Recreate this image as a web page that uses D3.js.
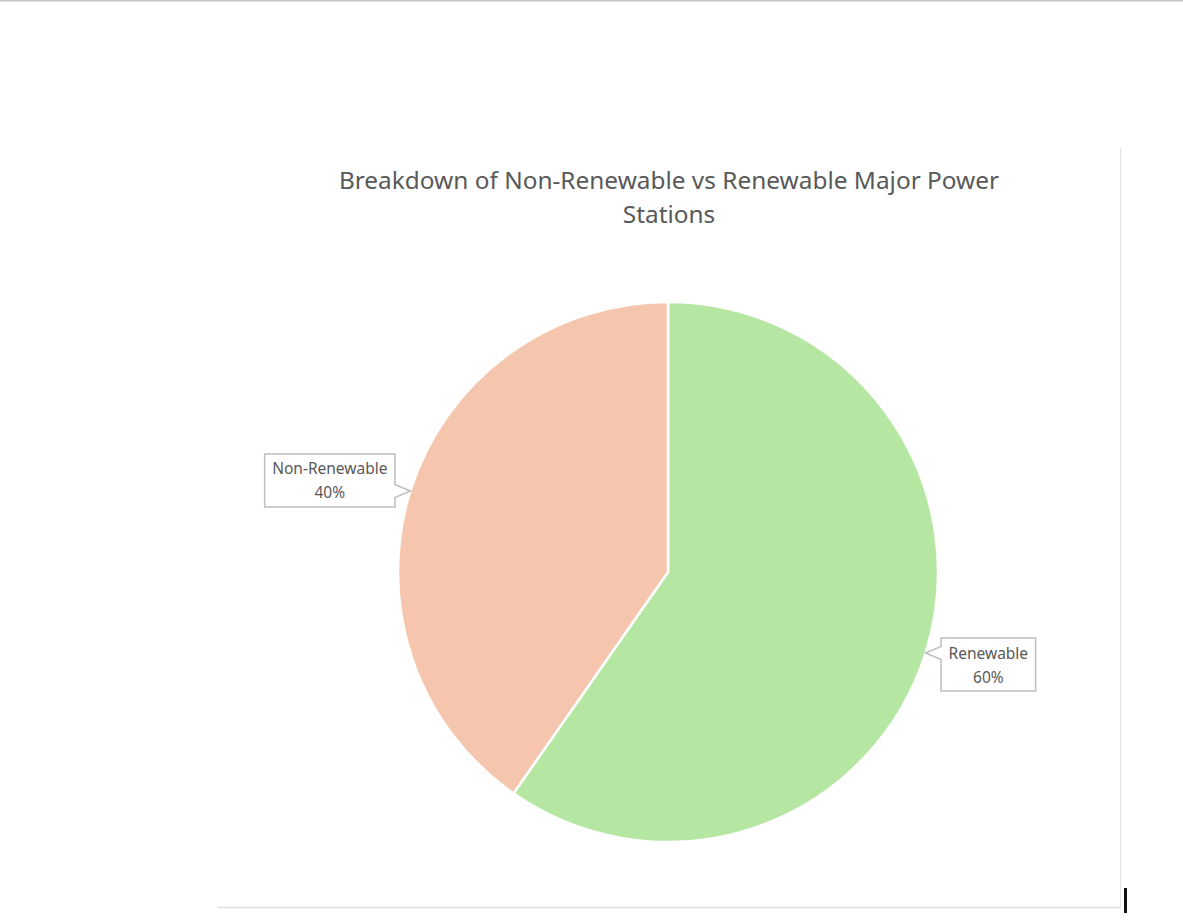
<!DOCTYPE html>
<html>
<head>
<meta charset="utf-8">
<script src="https://cdn.jsdelivr.net/npm/d3@7"></script>
<style>
  body { margin: 0; background: #fff; }
  svg { display: block; }
</style>
</head>
<body>
<svg id="chart"></svg>
<script>
var categories = ["Renewable", "Non-Renewable"];
var shares = [59.7, 40.3];
var colors = ["#b5e6a2", "#f5c6ad"];
var titleLines = ["Breakdown of Non-Renewable vs Renewable Major Power", "Stations"];

var width = 1183, height = 923;
var cx = 668, cy = 572, radius = 270;
var font = "'Noto Sans', sans-serif";

var svg = d3.select("#chart")
    .attr("width", width)
    .attr("height", height);

// page frame bits around the chart area
svg.append("line")
    .attr("x1", 0).attr("x2", width).attr("y1", 0.75).attr("y2", 0.75)
    .attr("stroke", "#c6c6c6").attr("stroke-width", 1.5);
svg.append("line")
    .attr("x1", 1120.5).attr("x2", 1120.5).attr("y1", 148).attr("y2", 908)
    .attr("stroke", "#e3e3e3").attr("stroke-width", 1);
svg.append("line")
    .attr("x1", 218).attr("x2", 1121).attr("y1", 907.5).attr("y2", 907.5)
    .attr("stroke", "#dedede").attr("stroke-width", 1.5);
svg.append("rect")
    .attr("x", 1124).attr("y", 888).attr("width", 3).attr("height", 25)
    .attr("fill", "#111");

// title
svg.append("g").selectAll("text")
    .data(titleLines)
    .enter().append("text")
    .attr("x", 669)
    .attr("y", function (d, i) { return 189 + i * 34; })
    .attr("text-anchor", "middle")
    .attr("font-family", font)
    .attr("font-size", "24.4px")
    .attr("fill", "#595959")
    .text(function (d) { return d; });

var data = categories.map(function (c, i) {
    return {name: c, value: shares[i], color: colors[i]};
});

var pie = d3.pie()
    .sort(null)
    .value(function (d) { return d.value; });

var arc = d3.arc()
    .innerRadius(0)
    .outerRadius(radius);

var g = svg.append("g")
    .attr("transform", "translate(" + cx + "," + cy + ")");

var arcs = pie(data);

g.selectAll(".slice")
    .data(arcs)
    .enter().append("path")
    .attr("class", "slice")
    .attr("d", arc)
    .attr("fill", function (d) { return d.data.color; })
    .attr("stroke", "#fff")
    .attr("stroke-width", 2.5)
    .attr("stroke-linejoin", "miter");

// callout labels
var total = d3.sum(shares);
var labels = g.selectAll(".callout")
    .data(arcs)
    .enter().append("g")
    .attr("class", "callout");

labels.each(function (d) {
    var grp = d3.select(this);
    var mid = (d.startAngle + d.endAngle) / 2;
    var tipX = Math.sin(mid) * radius;
    var tipY = -Math.cos(mid) * radius;
    var right = tipX > 0;

    var t = grp.append("text")
        .attr("text-anchor", "middle")
        .attr("font-family", font)
        .attr("font-size", "15.5px")
        .attr("fill", "#595959");
    t.append("tspan").attr("x", 0).attr("dy", 0).text(d.data.name);
    t.append("tspan").attr("x", 0).attr("dy", 24)
        .text(Math.round(d.data.value / total * 100) + "%");

    var tw = t.node().getBBox().width;
    var bw = tw + 15, bh = 53;
    var gap = 15.5;
    var x0 = right ? tipX + gap : tipX - gap - bw;
    var y0 = right ? tipY - 15 : tipY - 37;
    var n = 6.5;
    var p;
    if (right) {
        p = [[x0, y0], [x0 + bw, y0], [x0 + bw, y0 + bh], [x0, y0 + bh],
             [x0, tipY + n], [tipX, tipY], [x0, tipY - n]];
    } else {
        p = [[x0, y0], [x0 + bw, y0], [x0 + bw, tipY - n], [tipX, tipY],
             [x0 + bw, tipY + n], [x0 + bw, y0 + bh], [x0, y0 + bh]];
    }
    grp.insert("path", "text")
        .attr("d", "M" + p.join("L") + "Z")
        .attr("fill", "#fff")
        .attr("stroke", "#bfbfbf")
        .attr("stroke-width", 1.5);
    t.attr("transform", "translate(" + (x0 + bw / 2) + "," + (y0 + 20.5) + ")");
});
</script>
</body>
</html>
